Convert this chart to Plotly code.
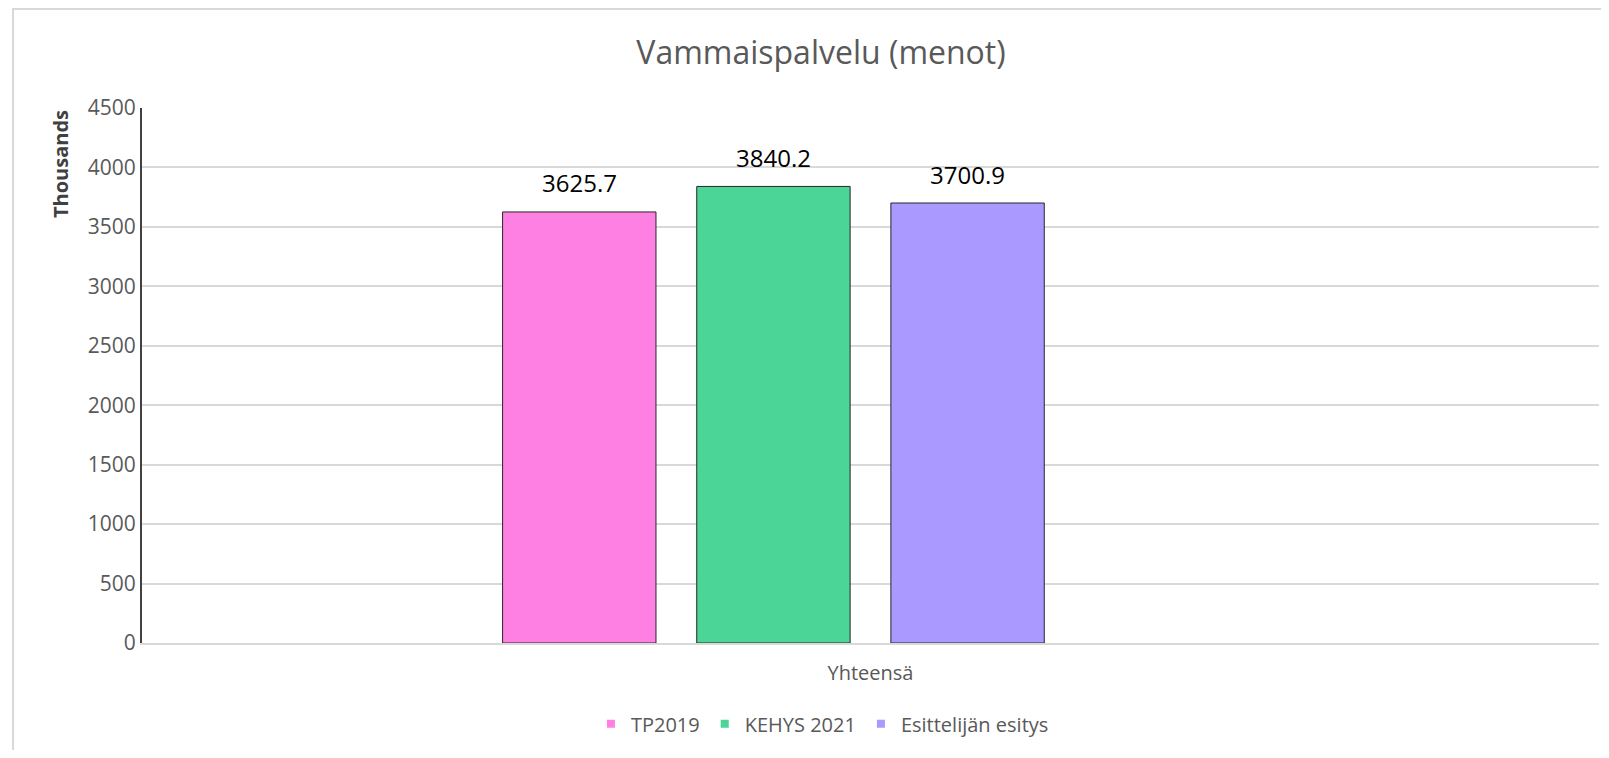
import plotly.graph_objects as go

# Data
categories = ["Yhteensä"]
series_names = ["TP2019", "KEHYS 2021", "Esittelijän esitys"]
tp2019 = [3625.7]
kehys_2021 = [3840.2]
esittelija = [3700.9]
hidden_series = [None]  # empty fourth series kept in the group (not shown in legend)

colors = ["#FF80E3", "#4BD596", "#AA99FF"]
y_ticks = [0, 500, 1000, 1500, 2000, 2500, 3000, 3500, 4000, 4500]

FONT = "Open Sans, Segoe UI, DejaVu Sans, sans-serif"
GRAY = "#595959"
BARGAP = 0.467
N_SLOTS = 4  # three visible series + one empty

fig = go.Figure()
all_series = [tp2019, kehys_2021, esittelija]
for name, vals, clr in zip(series_names, all_series, colors):
    fig.add_trace(go.Bar(
        x=categories, y=vals, name=name, showlegend=False,
        marker=dict(color=clr, line=dict(color="#262626", width=1)),
    ))
fig.add_trace(go.Bar(x=categories, y=hidden_series, name="", showlegend=False,
                     hoverinfo="skip"))

# legend entries with small square swatches
for name, clr in zip(series_names, colors):
    fig.add_trace(go.Scatter(
        x=[None], y=[None], mode="markers", name=name,
        marker=dict(symbol="square", size=8, color=clr),
    ))

# data labels above each bar (centre of each group slot)
slot = (1 - BARGAP) / N_SLOTS
for i, vals in enumerate(all_series):
    for j, v in enumerate(vals):
        fig.add_annotation(
            x=j - (1 - BARGAP) / 2 + (i + 0.5) * slot, y=v,
            text=f"{v:.1f}", showarrow=False, yanchor="middle", yshift=29,
            font=dict(size=24, color="black", family=FONT),
        )

# page body adds 8px offset, so the figure is sized to fit the window without scrollbars
fig.update_layout(
    width=1593, height=742,
    margin=dict(l=134, r=2, t=100, b=107),
    paper_bgcolor="white", plot_bgcolor="white",
    barmode="group", bargap=BARGAP, bargroupgap=0.21,
    font=dict(family=FONT, color=GRAY, size=20),
    title=dict(text="Vammaispalvelu (menot)", x=813 / 1593, xanchor="center",
               y=1 - 45 / 742, yanchor="middle", xref="container", yref="container",
               font=dict(size=32, color=GRAY, family=FONT)),
    showlegend=True,
    legend=dict(orientation="h", x=0.467, xanchor="center", y=-0.151, yanchor="middle",
                font=dict(size=20, color=GRAY, family=FONT), itemwidth=30,
                traceorder="normal"),
)
fig.update_yaxes(
    range=[0, 4500], tickvals=y_ticks, showgrid=True, gridcolor="#d9d9d9", gridwidth=1.5,
    showline=True, linecolor="#404040", linewidth=2, ticks="", zeroline=False,
    tickfont=dict(size=21, color=GRAY), ticklabelstandoff=0,
)
fig.update_xaxes(
    showline=True, linecolor="#d9d9d9", linewidth=2, ticks="",
    tickfont=dict(size=20, color=GRAY), ticklabelstandoff=11,
)

# Y axis title placed near the top like the original
fig.add_annotation(
    text="<b>Thousands</b>", textangle=-90, xref="paper", yref="paper",
    x=(52 - 134) / 1457, y=(635 - 156) / 535, xanchor="center", yanchor="middle",
    showarrow=False, font=dict(size=20, color="#404040", family=FONT),
)

# Outer chart frame (right and bottom edges fall outside the window)
fig.add_shape(type="rect", xref="paper", yref="paper",
              x0=-0.0885, x1=1.05, y0=-0.3, y1=1.185,
              line=dict(color="#d9d9d9", width=2), fillcolor="rgba(0,0,0,0)", layer="below")

fig.write_html("out.html")
